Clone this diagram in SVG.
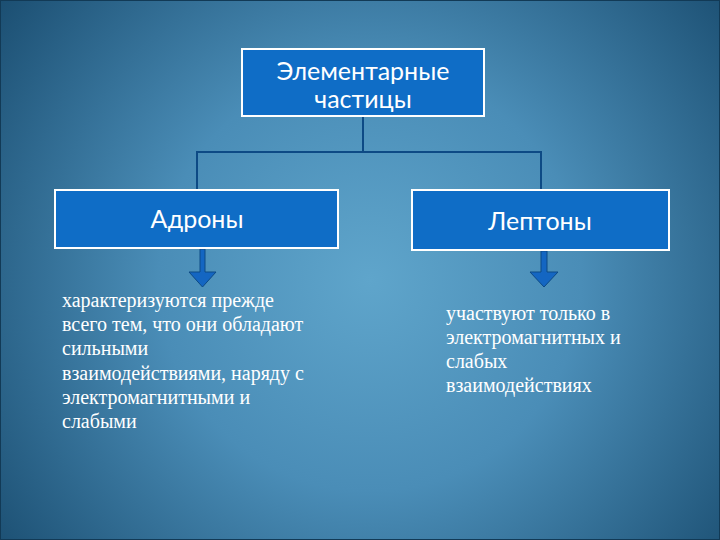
<svg xmlns="http://www.w3.org/2000/svg" width="720" height="540" viewBox="0 0 720 540">
<defs>
<radialGradient id="bg" cx="370" cy="280" r="470" gradientUnits="userSpaceOnUse">
<stop offset="0" stop-color="#5fa5cb"/>
<stop offset="0.45" stop-color="#4a8db7"/>
<stop offset="1" stop-color="#1a4d70"/>
</radialGradient>
<style>
.box{fill:#0f6dc6;stroke:#ffffff;stroke-width:2}
.lbl{font-family:Lato,"Open Sans",sans-serif;fill:#ffffff;text-anchor:middle}
.con{stroke:#0d4a85;stroke-width:2;fill:none}
.arr{fill:#1466c2;stroke:#0d4a85;stroke-width:1}
.desc{font-family:"Liberation Serif",serif;font-size:20px;fill:#ffffff}
</style>
</defs>
<rect width="720" height="540" fill="url(#bg)"/>
<rect x="0.5" y="0.5" width="719" height="539" fill="none" stroke="#123a56" stroke-width="1"/>
<g id="connectors">
<path class="con" d="M363 116V152M197 190V152H541V190"/>
<path class="arr" d="M200 249H205V272H216L202.5 287L189 272H200Z"/>
<path class="arr" d="M541 251H547V272H558L544 287L530 272H541Z"/>
</g>
<g id="n-elem">
<rect class="box" x="242" y="49" width="242" height="67"/>
<text class="lbl" x="363" y="80" font-size="25">Элементарные</text>
<text class="lbl" x="363" y="108" font-size="25">частицы</text>
</g>
<g id="n-hadrons">
<rect class="box" x="55" y="190" width="283" height="58"/>
<text class="lbl" x="197" y="228" font-size="25">Адроны</text>
</g>
<g id="n-leptons">
<rect class="box" x="412" y="190" width="257" height="60"/>
<text class="lbl" x="540" y="230" font-size="25">Лептоны</text>
</g>
<g id="t-hadrons" class="desc">
<text x="62" y="307">характеризуются прежде</text>
<text x="62" y="331">всего тем, что они обладают</text>
<text x="62" y="355">сильными</text>
<text x="62" y="380">взаимодействиями, наряду с</text>
<text x="62" y="404">электромагнитными и</text>
<text x="62" y="428">слабыми</text>
</g>
<g id="t-leptons" class="desc">
<text x="446" y="320">участвуют только в</text>
<text x="446" y="344">электромагнитных и</text>
<text x="446" y="368">слабых</text>
<text x="446" y="392">взаимодействиях</text>
</g>
</svg>
